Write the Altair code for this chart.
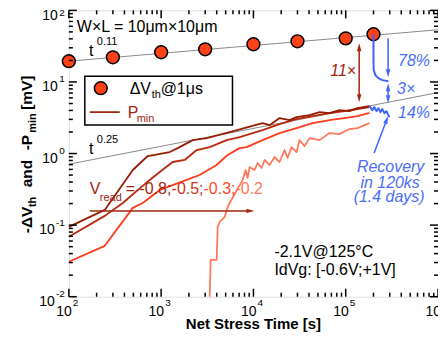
import altair as alt
import pandas as pd

FONT = "Liberation Sans"
W, H = 370, 287

# ---------------- data ----------------
circle_t = [100, 300, 1000, 3000, 10000, 30000, 100000, 200000]
circle_v = [19.5, 22.1, 26.0, 28.6, 33.6, 37.0, 40.7, 46.4]

fit_a_t = [100, 1000000]
fit_a_v = [19.5, 53.6]
fit_b_t = [100, 1000000]
fit_b_v = [0.71, 7.1]

p08_t = [100, 245, 493, 716, 1240, 1510, 2200, 3110, 5520, 12560, 14960, 19190, 24600,
         29310, 40540, 52020, 66680, 85500, 109700, 134000, 181000]
p08_v = [0.0945, 0.163, 0.589, 0.923, 1.05, 1.19, 1.54, 1.64, 1.99, 2.66, 2.49, 3.13, 2.93,
         3.23, 3.44, 3.79, 3.67, 4.04, 3.91, 4.30, 4.59]

p05_t = [100, 245, 384, 751, 966, 1334, 1799, 2427, 3357, 5127, 7086, 12560, 19190, 29310,
         43650, 66680, 96800, 134000, 181000]
p05_v = [0.0686, 0.1346, 0.204, 0.428, 0.552, 0.762, 0.813, 1.12, 1.23, 1.54, 1.70, 2.13,
         2.58, 3.03, 3.33, 3.67, 3.91, 4.17, 4.45]

p03_t = [100, 245, 493, 632, 966, 1892, 2612, 3990, 5250, 7086, 8430, 12560, 19190, 29310,
         43650, 66680, 96800, 134000, 181000]
p03_v = [0.0308, 0.0514, 0.174, 0.204, 0.310, 0.428, 0.502, 0.692, 0.953, 1.19, 1.23, 1.54,
         1.93, 2.27, 2.66, 2.93, 3.13, 3.33, 3.70]

p02_t = [3360, 3440, 4000, 4100, 4310, 4880, 5130, 5520, 7640, 8230, 8650, 9080, 10290,
         11090, 12250, 13210, 14960, 16940, 19190, 21740, 23430, 25890, 29310, 31580, 35780,
         40540, 52020, 66680, 85500, 109700, 134000, 181000]
p02_v = [0.01, 0.0328, 0.0328, 0.0946, 0.111, 0.130, 0.163, 0.204, 0.428, 0.589, 0.456,
         0.649, 0.589, 0.738, 0.628, 0.813, 0.692, 0.894, 0.762, 1.12, 0.866, 1.23, 1.05,
         1.54, 1.27, 1.64, 1.54, 1.93, 1.87, 2.20, 2.27, 2.66]

rec_p_t = [181000, 194500, 204600, 215300, 226000, 237700, 249700, 262500, 276000, 289800, 297200]
rec_p_v = [4.59, 4.04, 4.45, 3.91, 4.30, 3.79, 4.17, 3.67, 3.91, 3.44, 3.23]

rec_d_t = [200000, 200000, 201000, 209900, 226000, 249700, 289800]
rec_d_v = [46.4, 20.1, 14.6, 12.4, 11.3, 10.6, 10.2]

x_major = [100, 1000, 10000, 100000, 1000000]
x_exp = ["2", "3", "4", "5", "6"]
y_major = [100, 10, 1, 0.1, 0.01]
y_exp = ["2", "1", "0", "-1", "-2"]
minor_mult = [2, 3, 4, 5, 6, 7, 8, 9]

# colours
C08, C05, C03, C02 = "#961E05", "#B8280C", "#FF3B1C", "#FF7A5C"
DARK = "#A2260E"
BLUE = "#3F63FF"
BLUE_T = "#4A6EF5"
CIRC = "#FF4117"

# ---------------- helpers ----------------
xs = alt.Scale(type="log", domain=[100, 1000000])
ys = alt.Scale(type="log", domain=[0.01, 100])


def X(f="t"):
    return alt.X(f"{f}:Q", scale=xs, axis=None)


def Y(f="v"):
    return alt.Y(f"{f}:Q", scale=ys, axis=None)


def line(ts, vs, color, width, opacity=1):
    df = pd.DataFrame({"t": ts, "v": vs, "i": list(range(len(ts)))})
    return alt.Chart(df).mark_line(color=color, strokeWidth=width, opacity=opacity,
                                   strokeJoin="round").encode(x=X(), y=Y(), order="i:Q")


one = pd.DataFrame({"k": [0]})


def txt(s, x, y, size=16, color="black", align="left", baseline="alphabetic",
        style="normal", weight="normal", angle=0):
    return alt.Chart(one).mark_text(text=s, font=FONT, fontSize=size, color=color, align=align,
                                    baseline=baseline, fontStyle=style, fontWeight=weight,
                                    angle=angle).encode(x=alt.value(x), y=alt.value(y))


def seg(x1, y1, x2, y2, color, w=1.5):
    return alt.Chart(one).mark_rule(color=color, strokeWidth=w).encode(
        x=alt.value(x1), y=alt.value(y1), x2=alt.value(x2), y2=alt.value(y2))


HEAD = "M0,1L-0.55,-1L0.55,-1Z"


def head(x, y, angle, color, size=64):
    return alt.Chart(one).mark_point(shape=HEAD, filled=True, color=color, size=size,
                                     angle=angle, opacity=1, strokeWidth=0).encode(
        x=alt.value(x), y=alt.value(y))


layers = []

# fits
layers.append(line(fit_a_t, fit_a_v, "#8a8a8a", 1))
layers.append(line(fit_b_t, fit_b_v, "#8a8a8a", 1))

# Pmin curves
layers.append(line(p02_t, p02_v, C02, 1.8))
layers.append(line(p03_t, p03_v, C03, 1.8))
layers.append(line(p05_t, p05_v, C05, 1.8))
layers.append(line(p08_t, p08_v, C08, 1.8))

# circles
cdf = pd.DataFrame({"t": circle_t, "v": circle_v})
layers.append(alt.Chart(cdf).mark_point(shape="circle", filled=True, fill=CIRC, stroke="black",
                                        strokeWidth=1.5, size=165, opacity=1).encode(x=X(), y=Y()))

# recovery
layers.append(line(rec_p_t, rec_p_v, BLUE, 2))
layers.append(line(rec_d_t, rec_d_v, BLUE, 2))

# ---------------- ticks (inside, all four sides) ----------------
xt_major = pd.DataFrame({"t": x_major})
xt_minor = pd.DataFrame({"t": [d * m for d in x_major[:-1] for m in minor_mult]})
yt_major = pd.DataFrame({"v": y_major})
yt_minor = pd.DataFrame({"v": [d * m for d in y_major[1:] for m in minor_mult]})

for df, L in ((xt_major, 8), (xt_minor, 4)):
    layers.append(alt.Chart(df).mark_rule(color="black", strokeWidth=1.5).encode(
        x=X(), y=alt.value(H), y2=alt.value(H - L)))
    layers.append(alt.Chart(df).mark_rule(color="black", strokeWidth=1.5).encode(
        x=X(), y=alt.value(0), y2=alt.value(L)))
for df, L in ((yt_major, 8), (yt_minor, 4)):
    layers.append(alt.Chart(df).mark_rule(color="black", strokeWidth=1.5).encode(
        y=Y(), x=alt.value(0), x2=alt.value(L)))
    layers.append(alt.Chart(df).mark_rule(color="black", strokeWidth=1.5).encode(
        y=Y(), x=alt.value(W), x2=alt.value(W - L)))

# tick labels
xl = pd.DataFrame({"t": x_major, "e": x_exp})
layers.append(alt.Chart(xl).mark_text(text="10", font=FONT, fontSize=14, align="right",
                                      baseline="alphabetic", dx=3).encode(x=X(), y=alt.value(306)))
layers.append(alt.Chart(xl).mark_text(font=FONT, fontSize=10, align="left",
                                      baseline="alphabetic", dx=4).encode(
    x=X(), y=alt.value(296), text="e:N"))

yl = pd.DataFrame({"v": y_major, "e": y_exp})
yl_top = yl[yl["v"] >= 100]
yl_mid = yl[(yl["v"] < 100) & (~yl["e"].str.startswith("-"))]
yl_neg = yl[yl["e"].str.startswith("-")]
layers.append(alt.Chart(yl_top).mark_text(font=FONT, fontSize=10, align="right",
                                          baseline="alphabetic", dy=6).encode(
    x=alt.value(-4), y=Y(), text="e:N"))
layers.append(alt.Chart(yl_top).mark_text(text="10", font=FONT, fontSize=14, align="right",
                                          baseline="alphabetic", dy=10).encode(
    x=alt.value(-11), y=Y()))
for sub, xx in ((yl_mid, -11), (yl_neg, -14)):
    layers.append(alt.Chart(sub).mark_text(font=FONT, fontSize=10, align="right",
                                           baseline="alphabetic", dy=0.5).encode(
        x=alt.value(-4), y=Y(), text="e:N"))
    layers.append(alt.Chart(sub).mark_text(text="10", font=FONT, fontSize=14, align="right",
                                           baseline="alphabetic", dy=9).encode(
        x=alt.value(xx), y=Y()))

# axis titles
TS = 15.5
layers.append(txt("Net Stress Time  [s]", W / 2, 319, size=15, weight="bold", align="center"))
for s, xx, yy, sz in (("-\u0394V", -42, 210, TS), ("th", -36, 192, 11),
                      ("and", -42, 163.5, TS), ("-P", -42, 132.5, TS),
                      ("min", -36, 113, 11), ("[mV]", -42, 82.5, TS)):
    layers.append(txt(s, xx, yy, size=sz, weight="bold", align="center",
                      baseline="middle", angle=270))

# ---------------- in-plot text ----------------
layers.append(txt("W\u00d7L = 10\u03bcm\u00d710\u03bcm", 8, 22))
layers.append(txt("t", 22.5, 46, align="center"))
layers.append(txt("0.11", 28, 35, size=11))
layers.append(txt("t", 22.5, 144, align="center"))
layers.append(txt("0.25", 28, 133, size=11))

# legend
layers.append(alt.Chart(one).mark_rect(fill="white", stroke="black", strokeWidth=1.5).encode(
    x=alt.value(16), y=alt.value(66), x2=alt.value(164), y2=alt.value(115)))
layers.append(alt.Chart(one).mark_point(shape="circle", filled=True, fill=CIRC, stroke="black",
                                        strokeWidth=1.5, size=165, opacity=1).encode(
    x=alt.value(32), y=alt.value(78)))
layers.append(txt("\u0394V", 61, 84))
layers.append(txt("th", 83, 88, size=11))
layers.append(txt("@1\u03bcs", 92, 84))
layers.append(seg(21, 102, 51, 102, DARK, 1.8))
layers.append(txt("P", 59, 108, color=DARK))
layers.append(txt("min", 68, 112, size=11, color=DARK))

# Vread annotation
layers.append(txt("V", 21, 184, color=DARK))
layers.append(txt("read", 31, 191, size=11, color=DARK))
layers.append(txt("= -0.8;", 57, 184, color=DARK))
layers.append(txt("-0.5;", 103, 184, color="#C8361A"))
layers.append(txt("-0.3;", 135, 184, color="#FF4A2A"))
layers.append(txt("-0.2", 167, 184, color=C02))
layers.append(seg(21, 201, 182, 201, DARK, 1.5))
layers.append(head(182, 201, 270, DARK))

# 11x arrow
layers.append(seg(291, 37, 291, 88, DARK, 1.5))
layers.append(head(291, 37, 180, DARK))
layers.append(head(291, 88, 0, DARK))
layers.append(txt("11\u00d7", 288, 66, color=DARK, style="italic", align="right"))

# blue arrows
layers.append(seg(320, 28, 320, 63, BLUE, 1.5))
layers.append(head(320, 63, 0, BLUE))
layers.append(seg(320, 77, 320, 89, BLUE, 1.5))
layers.append(head(320, 77, 180, BLUE))
layers.append(head(320, 89, 0, BLUE))
layers.append(seg(306, 143, 318.6, 109.7, BLUE, 1.5))
layers.append(head(318.6, 109.7, 200.7, BLUE))

layers.append(txt("78%", 330, 56, color=BLUE_T, style="italic"))
layers.append(txt("3\u00d7", 329, 84, color=BLUE_T, style="italic"))
layers.append(txt("14%", 330, 108, color=BLUE_T, style="italic"))
layers.append(txt("Recovery", 322.5, 162, color=BLUE_T, style="italic", align="center"))
layers.append(txt("in 120ks", 322, 178, color=BLUE_T, style="italic", align="center"))
layers.append(txt("(1.4 days)", 321, 192, color=BLUE_T, style="italic", align="center"))

layers.append(txt("-2.1V@125\u00b0C", 206, 247))
layers.append(txt("IdVg: [-0.6V;+1V]", 206, 265))

chart = alt.layer(*layers).properties(
    width=W, height=H,
    autosize=alt.AutoSizeParams(type="none"),
    padding={"left": 61, "top": 2, "right": 0, "bottom": 36},
).configure_view(stroke="black", strokeWidth=2.5).configure(background="white")

chart.save("out.html", embed_options={"renderer": "svg", "actions": False})
